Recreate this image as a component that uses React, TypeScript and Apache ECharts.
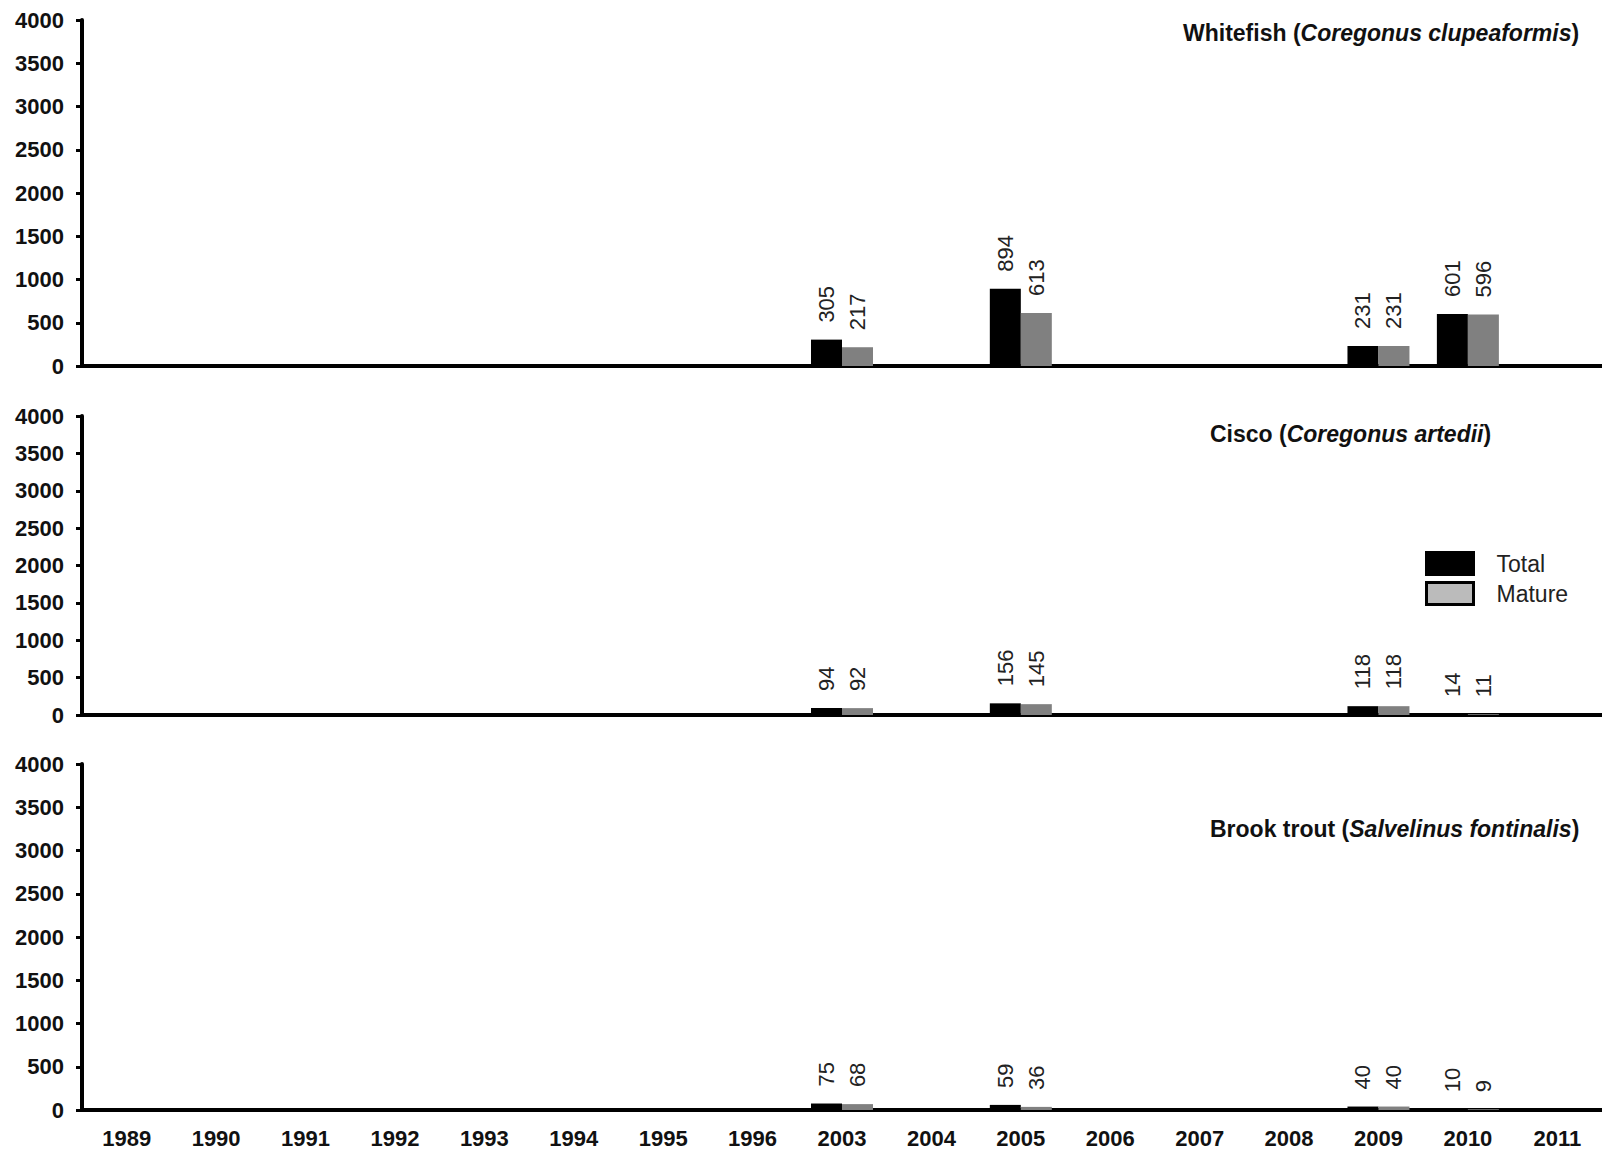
import React, { useEffect, useRef } from "react";
import * as echarts from "echarts";

const years = ["1989", "1990", "1991", "1992", "1993", "1994", "1995", "1996", "2003", "2004", "2005", "2006", "2007", "2008", "2009", "2010", "2011"];

const whitefishTotal = [null, null, null, null, null, null, null, null, 305, null, 894, null, null, null, 231, 601, null];
const whitefishMature = [null, null, null, null, null, null, null, null, 217, null, 613, null, null, null, 231, 596, null];
const ciscoTotal = [null, null, null, null, null, null, null, null, 94, null, 156, null, null, null, 118, 14, null];
const ciscoMature = [null, null, null, null, null, null, null, null, 92, null, 145, null, null, null, 118, 11, null];
const troutTotal = [null, null, null, null, null, null, null, null, 75, null, 59, null, null, null, 40, 10, null];
const troutMature = [null, null, null, null, null, null, null, null, 68, null, 36, null, null, null, 40, 9, null];

const panelNames = [
  ["Whitefish (", "Coregonus clupeaformis", ")"],
  ["Cisco (", "Coregonus artedii", ")"],
  ["Brook trout (", "Salvelinus fontinalis", ")"],
];

const FONT = "'Liberation Sans', Arial, Helvetica, sans-serif";

export default function App() {
  const ref = useRef<HTMLDivElement>(null);
  useEffect(() => {
    document.body.style.margin = "0";
    const chart = echarts.init(ref.current!, null, { renderer: "svg" });
    const grids = [
      { left: 82, right: 0, top: 20, height: 346 },
      { left: 82, right: 0, top: 416, height: 299 },
      { left: 82, right: 0, top: 764, height: 346 },
    ];
    const titleTops = [21, 422, 817];
    const titleLefts = [1183, 1210, 1210];
    const data = [
      [whitefishTotal, whitefishMature],
      [ciscoTotal, ciscoMature],
      [troutTotal, troutMature],
    ];
    const label = {
      show: true,
      position: "top",
      rotate: 90,
      align: "left",
      verticalAlign: "middle",
      distance: 17,
      fontSize: 22,
      fontFamily: FONT,
      color: "#222",
    };
    const series: any[] = [];
    data.forEach((pair, i) => {
      series.push({
        name: "Total",
        type: "bar",
        xAxisIndex: i,
        yAxisIndex: i,
        data: pair[0],
        barWidth: 31,
        barGap: "0%",
        itemStyle: { color: "#000" },
        label,
      });
      series.push({
        name: "Mature",
        type: "bar",
        xAxisIndex: i,
        yAxisIndex: i,
        data: pair[1],
        barWidth: 31,
        barGap: "0%",
        itemStyle: { color: "#808080" },
        label,
      });
    });
    chart.setOption({
      animation: false,
      backgroundColor: "#fff",
      textStyle: { fontFamily: FONT },
      title: panelNames.map((p, i) => ({
        text: `{n|${p[0]}}{i|${p[1]}}{n|${p[2]}}`,
        left: titleLefts[i],
        top: titleTops[i],
        padding: 0,
        textStyle: {
          fontFamily: FONT,
          fontSize: 23,
          fontWeight: "bold",
          color: "#111",
          rich: {
            n: { fontFamily: FONT, fontSize: 23, fontWeight: "bold", color: "#111" },
            i: { fontFamily: FONT, fontSize: 23, fontWeight: "bold", fontStyle: "italic", color: "#111" },
          },
        },
      })),
      legend: {
        orient: "vertical",
        left: 1425,
        top: 551,
        padding: 0,
        itemWidth: 47,
        itemHeight: 22,
        itemGap: 5,
        icon: "rect",
        textStyle: { fontFamily: FONT, fontSize: 23, color: "#222", padding: [0, 0, 0, 18] },
        data: [
          { name: "Total", itemStyle: { color: "#000", borderColor: "#000", borderWidth: 3 } },
          { name: "Mature", itemStyle: { color: "#bbbbbb", borderColor: "#000", borderWidth: 3 } },
        ],
      },
      grid: grids,
      xAxis: grids.map((_, i) => ({
        type: "category",
        gridIndex: i,
        data: years,
        axisLine: { show: true, lineStyle: { color: "#000", width: 4 } },
        axisTick: { show: false },
        axisLabel: {
          show: i === 2,
          fontFamily: FONT,
          fontSize: 22,
          fontWeight: "bold",
          color: "#111",
          margin: 17,
          interval: 0,
        },
        splitLine: { show: false },
      })),
      yAxis: grids.map((_, i) => ({
        type: "value",
        gridIndex: i,
        min: 0,
        max: 4000,
        interval: 500,
        axisLine: { show: true, lineStyle: { color: "#000", width: 4 } },
        axisTick: { show: true, length: 6, lineStyle: { color: "#000", width: 3 } },
        axisLabel: {
          fontFamily: FONT,
          fontSize: 22,
          fontWeight: "bold",
          color: "#111",
          margin: 18,
          formatter: (v: number) => String(v),
        },
        splitLine: { show: false },
      })),
      series,
    });
    return () => chart.dispose();
  }, []);
  return <div ref={ref} style={{ width: 1602, height: 1152 }} />;
}
